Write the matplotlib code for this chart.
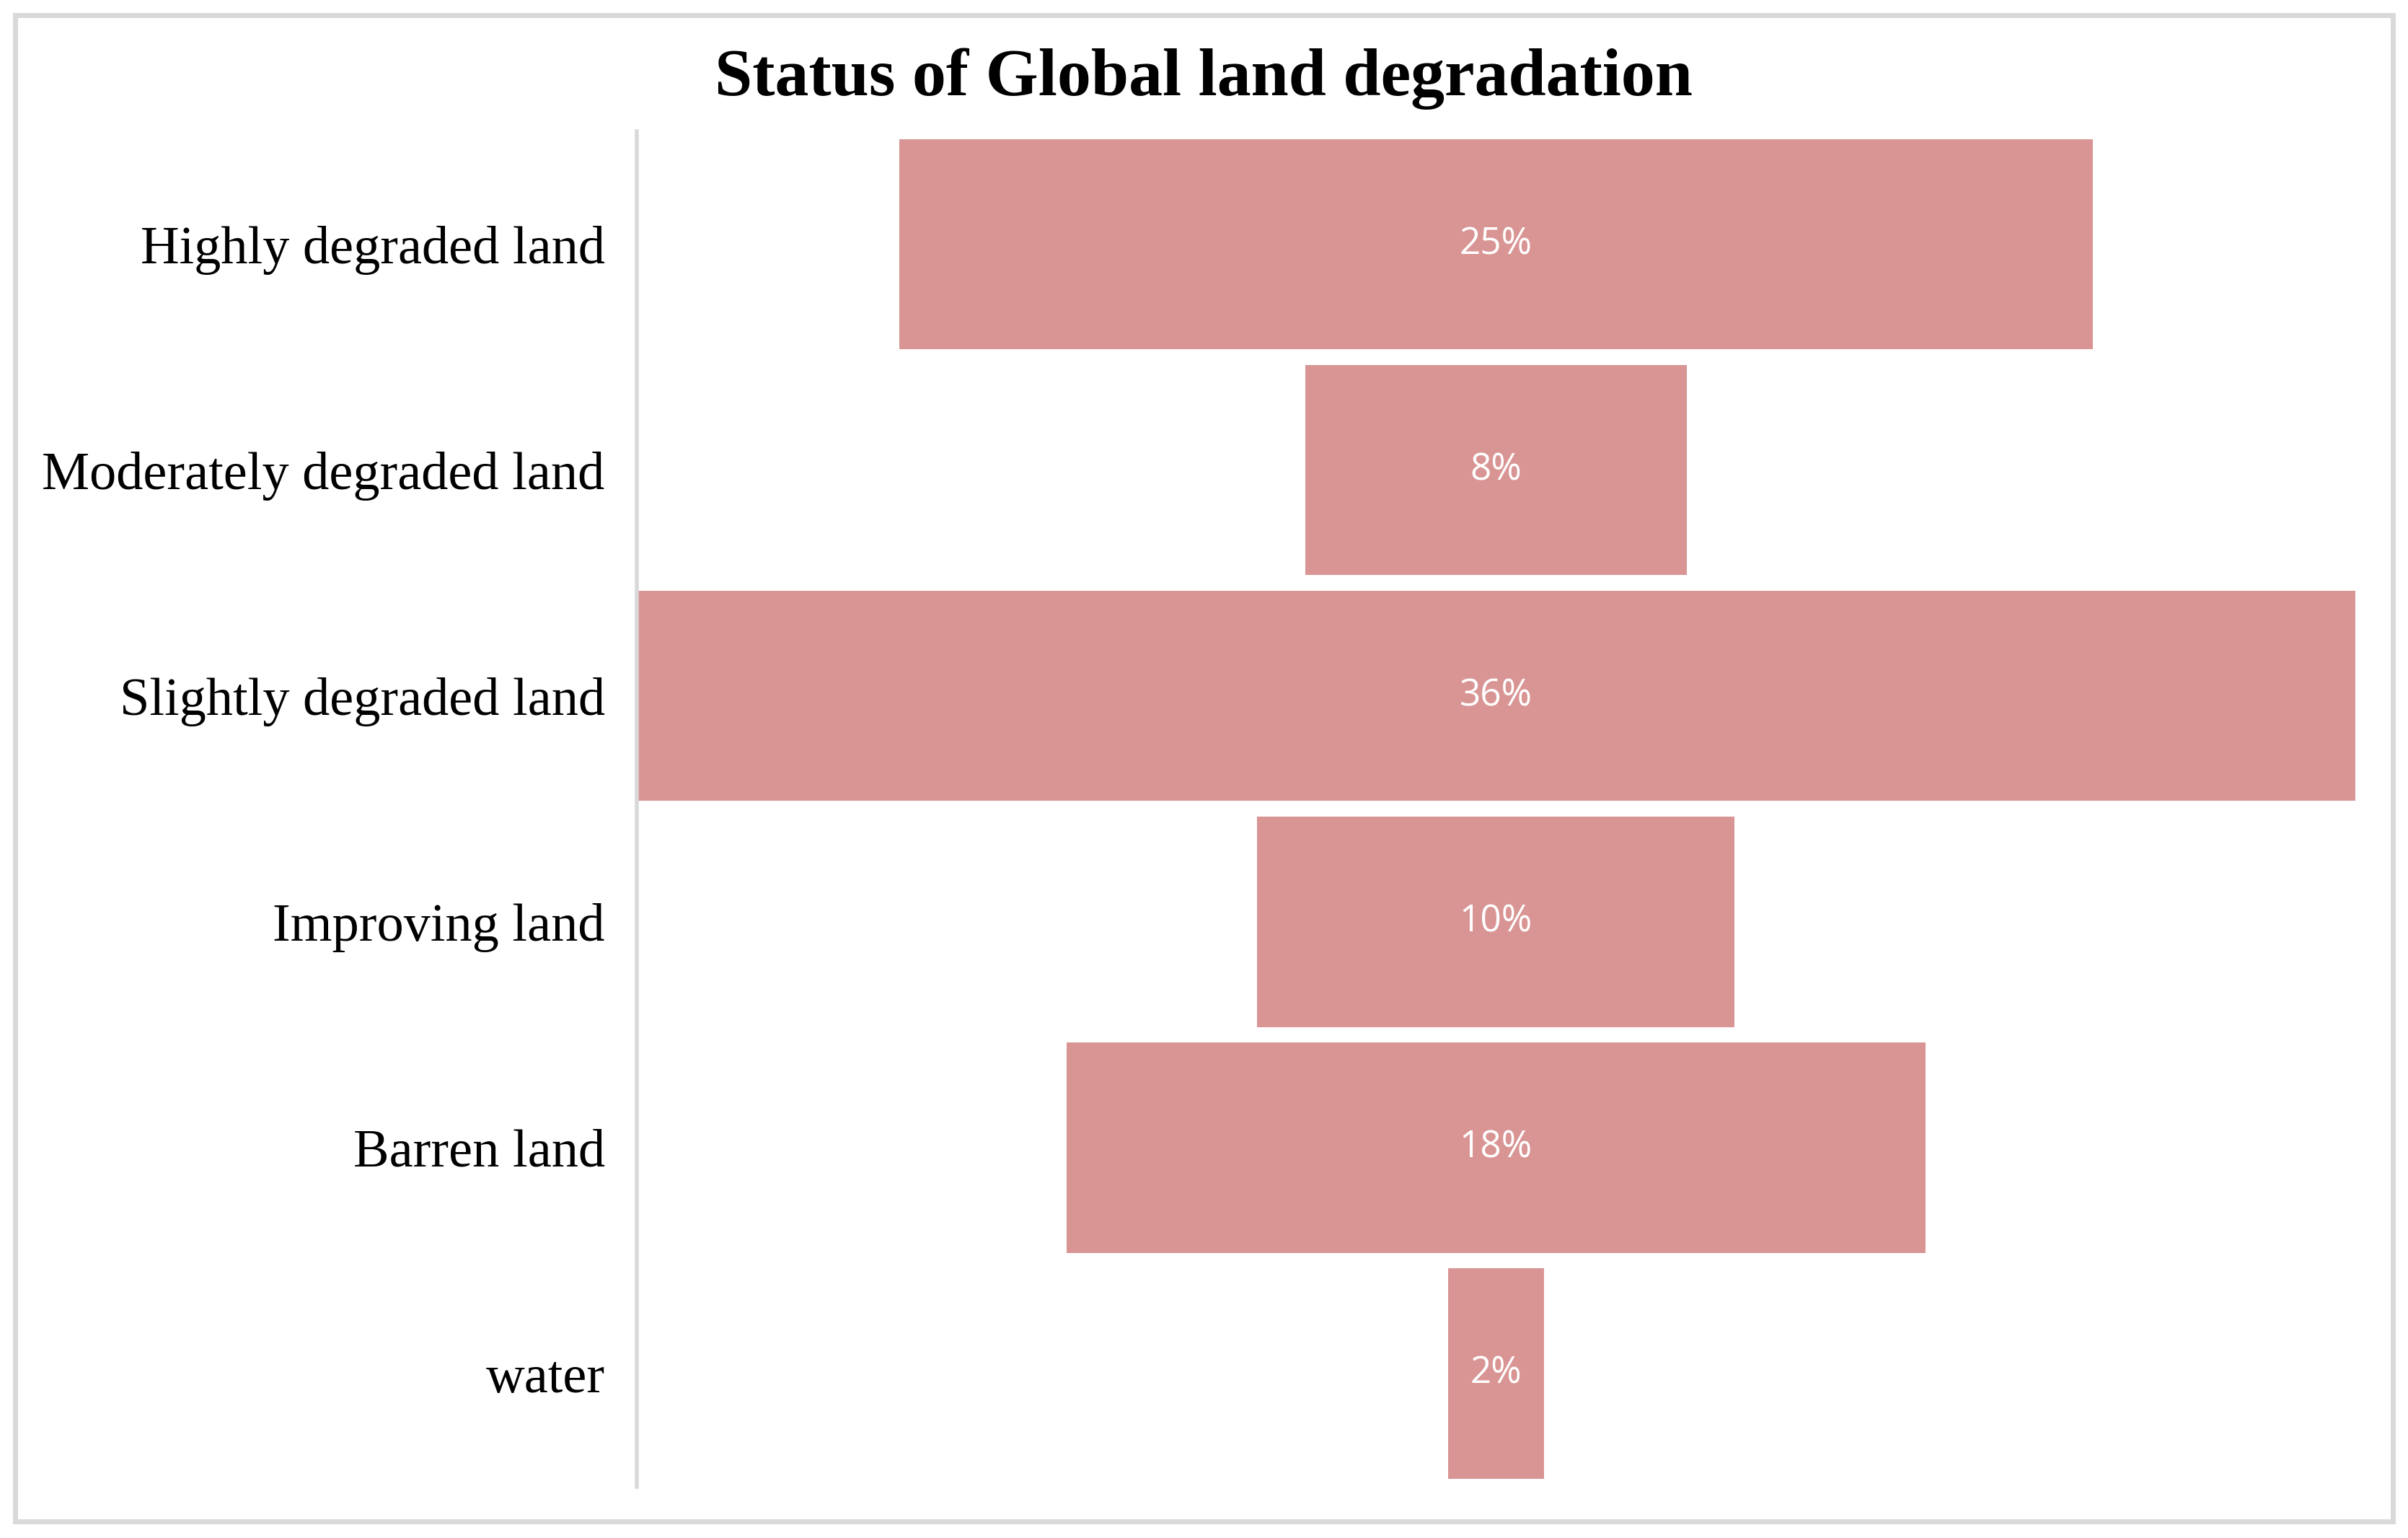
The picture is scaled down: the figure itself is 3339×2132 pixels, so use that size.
import matplotlib
matplotlib.use('Agg')
import matplotlib.pyplot as plt
from matplotlib.patches import Rectangle

# --- DATA ---
categories = ['Highly degraded land', 'Moderately degraded land', 'Slightly degraded land',
              'Improving land', 'Barren land', 'water']
shares = [25, 8, 36, 10, 18, 2]
share_labels = ['25%', '8%', '36%', '10%', '18%', '2%']

bar_color = '#D99594'
line_color = '#D9D9D9'

fig = plt.figure(figsize=(16.695, 10.66), dpi=200)
ax = fig.add_axes([0.2645, 0.0335, 0.7135, 0.881])

# Funnel: each bar centred on zero
ypos = list(range(len(categories)))
lefts = [-v / 2 for v in shares]
ax.barh(ypos, shares, left=lefts, height=0.93, color=bar_color)

for y, v, lab in zip(ypos, shares, share_labels):
    ax.text(0, y, lab, ha='center', va='center', color='white',
            fontsize=18.5, family='Open Sans')

ax.set_xlim(-max(shares) / 2, max(shares) / 2)
ax.set_ylim(len(categories) - 0.5, -0.5)
ax.set_yticks(ypos)
ax.set_yticklabels(categories, family='Liberation Serif', fontsize=26.8)
ax.tick_params(axis='y', length=0, pad=16)
ax.set_xticks([])

for side in ['top', 'right', 'bottom']:
    ax.spines[side].set_visible(False)
ax.spines['left'].set_color(line_color)
ax.spines['left'].set_linewidth(2)

fig.text(0.4997, 0.949, 'Status of Global land degradation', ha='center', va='center',
         family='Liberation Serif', fontweight='bold', fontsize=33.8)

# light frame around the chart area
fig.patches.append(Rectangle((0.0064, 0.011), 0.9872, 0.979, transform=fig.transFigure,
                             fill=False, edgecolor=line_color, linewidth=2.5))

plt.savefig('out.png')
